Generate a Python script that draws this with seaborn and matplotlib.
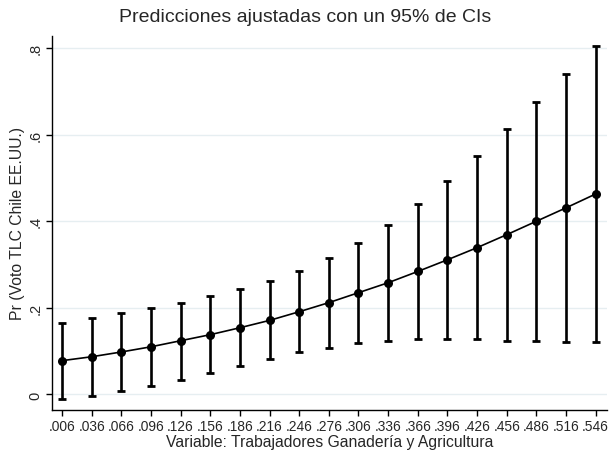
import matplotlib
matplotlib.use("Agg")
import matplotlib.pyplot as plt
import seaborn as sns
import numpy as np
import pandas as pd

# Data
x_vals = [0.006, 0.036, 0.066, 0.096, 0.126, 0.156, 0.186, 0.216, 0.246, 0.276,
          0.306, 0.336, 0.366, 0.396, 0.426, 0.456, 0.486, 0.516, 0.546]
pred = [0.078, 0.087, 0.098, 0.110, 0.124, 0.138, 0.154, 0.171, 0.191, 0.212,
        0.235, 0.258, 0.284, 0.311, 0.339, 0.369, 0.400, 0.431, 0.463]
ci_low = [-0.010, -0.003, 0.008, 0.019, 0.034, 0.049, 0.065, 0.081, 0.097, 0.108,
          0.119, 0.124, 0.127, 0.128, 0.127, 0.124, 0.123, 0.122, 0.121]
ci_high = [0.165, 0.177, 0.187, 0.200, 0.212, 0.228, 0.244, 0.262, 0.286, 0.315,
           0.350, 0.392, 0.440, 0.493, 0.551, 0.613, 0.676, 0.741, 0.805]
x_ticklabels = [".006", ".036", ".066", ".096", ".126", ".156", ".186", ".216", ".246", ".276",
                ".306", ".336", ".366", ".396", ".426", ".456", ".486", ".516", ".546"]
y_ticks = [0, 0.2, 0.4, 0.6, 0.8]
y_ticklabels = ["0", ".2", ".4", ".6", ".8"]

df = pd.DataFrame({"x": x_vals, "pred": pred, "lo": ci_low, "hi": ci_high})

sns.set_theme(style="white")
plt.rcParams["font.family"] = ["Liberation Sans", "DejaVu Sans"]

fig = plt.figure(figsize=(6.1, 4.52), dpi=100)
ax = fig.add_axes([52/610, 1 - 411/452, (607 - 52)/610, (411 - 37)/452])

grid_c = "#e6eef1"
for yv in y_ticks:
    ax.axhline(yv, color=grid_c, lw=1.0, zorder=0)

ax.errorbar(df["x"], df["pred"],
            yerr=[df["pred"] - df["lo"], df["hi"] - df["pred"]],
            fmt="none", ecolor="black", elinewidth=1.9, capsize=2.9, capthick=2.0, zorder=2)
sns.lineplot(data=df, x="x", y="pred", ax=ax, color="black", lw=1.2,
             marker="o", markersize=6.5, markeredgewidth=0, zorder=3)

ax.set_xlim(-0.0041, 0.5575)
ax.set_ylim(-0.036, 0.828)

ax.set_xticks(x_vals)
ax.set_xticklabels(x_ticklabels, fontsize=9.9)
ax.set_yticks(y_ticks)
ax.set_yticklabels(y_ticklabels, fontsize=10.5, rotation=90, va="center")

ax.tick_params(axis="both", which="major", direction="out", length=4.5, width=1.0,
               color="black", pad=2.5, left=True, bottom=True)
ax.tick_params(axis="x", pad=1.8)
for s in ["top", "right"]:
    ax.spines[s].set_visible(False)
for s in ["left", "bottom"]:
    ax.spines[s].set_color("black")
    ax.spines[s].set_linewidth(1.0)

ax.set_xlabel("Variable: Trabajadores Ganadería y Agricultura", fontsize=11.3, labelpad=0.8)
ax.set_ylabel("Pr (Voto TLC Chile EE.UU.)", fontsize=11.3, labelpad=2)
fig.suptitle("Predicciones ajustadas con un 95% de CIs", fontsize=14, y=0.98)

fig.savefig("out.png", dpi=100)
